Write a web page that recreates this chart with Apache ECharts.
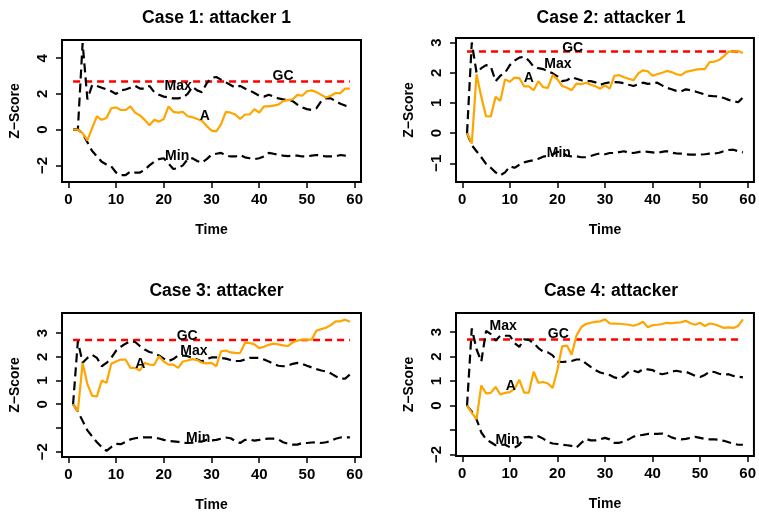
<!DOCTYPE html>
<html>
<head>
<meta charset="utf-8">
<script src="https://cdn.jsdelivr.net/npm/echarts@6/dist/echarts.min.js"></script>
<style>
html,body{margin:0;padding:0;background:#fff;}
#chart{width:759px;height:518px;}
</style>
</head>
<body>
<div id="chart"></div>
<script>
// time steps
const time = [1,2,3,4,5,6,7,8,9,10,11,12,13,14,15,16,17,18,19,20,
  21,22,23,24,25,26,27,28,29,30,31,32,33,34,35,36,37,38,39,40,
  41,42,43,44,45,46,47,48,49,50,51,52,53,54,55,56,57,58,59];
const gcLevel = 2.7;
const xTicks = [0,10,20,30,40,50,60];
const titles = ['Case 1: attacker 1','Case 2: attacker 1','Case 3: attacker','Case 4: attacker'];

// case 1
const a1 = [0,0,-0.2,-0.6,0.1,0.75,0.55,0.65,1.2,1.25,1.1,1.1,1.3,0.95,0.8,0.55,0.25,0.55,0.45,0.6,
  1.3,1.0,0.95,1.0,0.75,0.7,0.6,0.5,0.2,-0.05,-0.1,0.3,1.0,0.95,0.85,0.6,0.85,0.85,1.15,0.95,
  1.3,1.3,1.35,1.4,1.6,1.65,1.7,1.95,1.9,2.15,2.2,2.1,1.95,1.8,1.9,2.05,2.05,2.3,2.3];
const max1 = [0,0,4.85,1.7,2.5,2.45,2.35,2.25,2.15,2.0,2.2,2.25,2.35,2.45,2.3,2.3,2.45,2.1,1.95,1.85,
  1.8,1.75,1.75,1.8,2.0,2.4,2.2,2.1,2.6,2.9,2.95,2.8,2.65,2.5,2.35,2.45,2.3,2.2,2.05,1.9,
  1.85,1.95,1.85,1.75,1.7,1.68,1.6,1.4,1.25,1.15,1.1,1.2,1.6,1.75,1.75,1.6,1.45,1.35,1.3];
const min1 = [0,0,-0.2,-0.7,-1.2,-1.5,-1.8,-1.95,-2.05,-2.4,-2.55,-2.55,-2.35,-2.4,-2.4,-2.25,-2.0,-1.8,-1.65,-1.6,
  -1.9,-2.2,-2.15,-2.0,-1.65,-1.6,-1.75,-1.85,-1.65,-1.4,-1.35,-1.3,-1.45,-1.5,-1.5,-1.42,-1.55,-1.6,-1.65,-1.6,
  -1.5,-1.3,-1.35,-1.4,-1.45,-1.48,-1.45,-1.45,-1.5,-1.5,-1.45,-1.42,-1.45,-1.5,-1.5,-1.5,-1.42,-1.45,-1.45];

// case 2
const a2 = [0,-0.35,1.95,1.2,0.56,0.55,1.2,1.07,1.78,1.7,1.84,1.82,1.55,1.55,1.42,1.72,1.52,1.5,1.92,1.78,
  1.56,1.5,1.42,1.64,1.62,1.67,1.6,1.55,1.47,1.58,1.47,1.9,1.92,1.85,1.8,1.75,1.98,2.08,2.05,1.9,
  1.95,2.0,2.06,2.02,1.95,1.92,2.03,2.06,2.1,2.12,2.12,2.35,2.37,2.42,2.55,2.7,2.7,2.72,2.65];
const max2 = [0,3.0,2.0,2.15,2.25,2.2,1.72,1.9,2.0,2.25,2.4,2.5,2.53,2.4,2.2,2.15,2.12,2.05,1.98,1.88,
  1.72,1.75,1.85,1.8,1.75,1.72,1.72,1.68,1.6,1.65,1.68,1.69,1.68,1.65,1.6,1.56,1.62,1.67,1.63,1.65,
  1.67,1.58,1.5,1.45,1.4,1.38,1.45,1.42,1.38,1.33,1.28,1.23,1.22,1.21,1.16,1.1,1.06,1.02,1.18];
const min2 = [0,-0.4,-0.6,-0.8,-1.02,-1.15,-1.3,-1.4,-1.3,-1.1,-1.15,-1.05,-0.97,-0.93,-0.9,-0.85,-0.78,-0.75,-0.71,-0.62,
  -0.64,-0.75,-0.77,-0.77,-0.8,-0.8,-0.76,-0.71,-0.67,-0.7,-0.66,-0.66,-0.63,-0.6,-0.65,-0.66,-0.63,-0.6,-0.62,-0.64,
  -0.66,-0.62,-0.6,-0.65,-0.67,-0.68,-0.7,-0.71,-0.71,-0.71,-0.7,-0.68,-0.68,-0.65,-0.6,-0.56,-0.55,-0.6,-0.64];

// case 3
const a3 = [0,-0.3,1.74,0.85,0.35,0.33,1.0,0.9,1.7,1.8,1.88,1.88,1.53,1.53,1.42,1.74,1.67,1.66,2.02,1.8,
  1.67,1.67,1.53,1.8,1.84,1.9,1.86,1.75,1.72,1.74,1.6,2.23,2.26,2.18,2.16,2.15,2.58,2.58,2.52,2.36,
  2.42,2.5,2.55,2.52,2.48,2.45,2.6,2.68,2.72,2.72,2.72,3.1,3.16,3.22,3.33,3.49,3.49,3.56,3.47];
const max3 = [0,2.65,1.75,1.95,2.08,1.95,1.6,1.74,1.95,2.25,2.42,2.55,2.65,2.62,2.45,2.3,2.2,2.15,2.05,1.92,
  1.82,1.9,2.05,2.05,2.02,1.96,1.88,1.8,1.9,1.97,1.97,1.95,1.92,1.86,1.82,1.82,1.88,1.95,1.95,1.95,
  1.88,1.8,1.7,1.62,1.6,1.62,1.7,1.74,1.7,1.62,1.55,1.48,1.42,1.38,1.3,1.18,1.08,1.08,1.25];
const min3 = [0,-0.3,-0.7,-1.1,-1.35,-1.6,-1.8,-1.96,-1.8,-1.67,-1.68,-1.58,-1.48,-1.43,-1.41,-1.39,-1.39,-1.4,-1.44,-1.5,
  -1.54,-1.56,-1.58,-1.62,-1.63,-1.62,-1.57,-1.57,-1.5,-1.52,-1.5,-1.45,-1.4,-1.43,-1.55,-1.63,-1.5,-1.49,-1.53,-1.5,
  -1.46,-1.45,-1.45,-1.48,-1.6,-1.66,-1.7,-1.7,-1.63,-1.63,-1.61,-1.6,-1.63,-1.6,-1.55,-1.45,-1.4,-1.39,-1.39];

// case 4
const a4 = [0,-0.3,-0.55,0.82,0.5,0.52,0.76,0.45,0.52,0.55,0.68,1.05,0.53,0.53,1.38,0.93,0.96,0.9,0.72,1.45,
  2.42,2.45,2.08,2.85,3.2,3.33,3.38,3.42,3.44,3.52,3.36,3.35,3.34,3.32,3.3,3.26,3.32,3.42,3.2,3.28,
  3.3,3.33,3.38,3.36,3.39,3.4,3.46,3.36,3.3,3.38,3.25,3.35,3.32,3.25,3.17,3.19,3.17,3.25,3.52];
const max4 = [0,3.15,2.3,1.8,3.05,2.92,2.65,2.85,2.85,2.85,2.55,2.4,2.7,2.68,2.55,2.35,2.2,2.17,2.05,1.8,
  1.78,1.8,1.82,1.88,1.88,1.72,1.58,1.45,1.35,1.3,1.25,1.15,1.1,1.2,1.38,1.42,1.36,1.49,1.48,1.45,
  1.33,1.28,1.32,1.39,1.42,1.38,1.38,1.3,1.21,1.17,1.25,1.38,1.37,1.3,1.26,1.28,1.21,1.18,1.15];
const min4 = [0,-0.25,-0.56,-1.1,-1.37,-1.5,-1.62,-1.6,-1.6,-1.7,-1.72,-1.6,-1.3,-1.28,-1.33,-1.25,-1.35,-1.48,-1.55,-1.57,
  -1.6,-1.62,-1.65,-1.72,-1.53,-1.36,-1.42,-1.42,-1.38,-1.32,-1.38,-1.52,-1.52,-1.47,-1.38,-1.27,-1.22,-1.2,-1.16,-1.16,
  -1.16,-1.14,-1.2,-1.3,-1.36,-1.38,-1.36,-1.32,-1.28,-1.32,-1.36,-1.38,-1.38,-1.4,-1.44,-1.5,-1.56,-1.6,-1.6];

// y ticks (tick marks / printed labels)
const yTicks = [[-2,0,2,4],[-1,0,1,2,3],[-2,-1,0,1,2,3],[-2,-1,0,1,2,3]];
const yLabels = [[-2,0,2,4],[-1,0,1,2,3],[-2,0,1,2,3],[-2,0,1,2,3]];

// text annotations [time, z, text]
const notes = [
  [[23,2.45,'Max'],[45,2.97,'GC'],[28.6,0.77,'A'],[22.8,-1.47,'Min']],
  [[20.1,2.29,'Max'],[23.2,2.81,'GC'],[14,1.82,'A'],[20.3,-0.67,'Min']],
  [[26.3,2.24,'Max'],[24.9,2.86,'GC'],[15.1,1.67,'A'],[27.2,-1.42,'Min']],
  [[8.6,3.23,'Max'],[20.2,2.93,'GC'],[10.2,0.8,'A'],[9.5,-1.4,'Min']]
];

const aSeries = [a1,a2,a3,a4], maxSeries = [max1,max2,max3,max4], minSeries = [min1,min2,min3,min4];

// layout of each panel
const boxes = [
  {left:62, top:40, width:299, height:142, yMin:-2.93, yMax:5.02, titleTop:4},
  {left:456, top:38, width:300, height:144, yMin:-1.62, yMax:3.15, titleTop:4},
  {left:62, top:313, width:299, height:144, yMin:-2.22, yMax:3.84, titleTop:277},
  {left:456, top:313, width:300, height:143, yMin:-2.06, yMax:3.78, titleTop:277}
];

const font = 'Liberation Sans, Arial, Helvetica, sans-serif';
const txt = {color:'#000', fontWeight:'bold', fontFamily:font, fontSize:14};
const tickTxt = {color:'#000', fontWeight:'bold', fontFamily:font, fontSize:15};
const minus = v => String(v).replace('-', '\u2212');
const pair = arr => arr.map((v,i) => [time[i], v]);

const grid = [], xAxis = [], yAxis = [], series = [], title = [];
boxes.forEach((b,i) => {
  grid.push({left:b.left, top:b.top, width:b.width, height:b.height, show:true,
    borderColor:'#000', borderWidth:2, containLabel:false});
  title.push({text:titles[i], left:b.left + b.width/2, top:b.titleTop, textAlign:'center',
    textStyle:{color:'#000', fontWeight:'bold', fontFamily:font, fontSize:17.5}});
  xAxis.push({type:'value', gridIndex:i, min:-1.32, max:61.32,
    name:'Time', nameLocation:'middle', nameGap:41, nameTextStyle:txt,
    axisLine:{show:false, onZero:false},
    axisTick:{show:true, customValues:xTicks, length:6, lineStyle:{color:'#000', width:1.5}},
    axisLabel:Object.assign({customValues:xTicks, margin:10}, tickTxt),
    splitLine:{show:false}});
  yAxis.push({type:'value', gridIndex:i, min:b.yMin, max:b.yMax,
    name:'Z\u2212Score', nameLocation:'middle', nameGap:40, nameRotate:90, nameTextStyle:txt,
    axisLine:{show:false, onZero:false},
    axisTick:{show:true, customValues:yTicks[i], length:6, lineStyle:{color:'#000', width:1.5}},
    axisLabel:Object.assign({customValues:yLabels[i], rotate:90, margin:12, formatter:minus}, tickTxt),
    splitLine:{show:false}});

  series.push({type:'line', name:'GC', xAxisIndex:i, yAxisIndex:i, symbol:'none',
    data:[[time[0], gcLevel],[time[time.length-1], gcLevel]],
    lineStyle:{color:'#ff0000', width:2.5, type:[7,5]}});
  series.push({type:'line', name:'Max', xAxisIndex:i, yAxisIndex:i, symbol:'none',
    data:pair(maxSeries[i]), lineStyle:{color:'#000', width:2.2, type:[9,5]}});
  series.push({type:'line', name:'Min', xAxisIndex:i, yAxisIndex:i, symbol:'none',
    data:pair(minSeries[i]), lineStyle:{color:'#000', width:2.2, type:[9,5]}});
  series.push({type:'line', name:'A', xAxisIndex:i, yAxisIndex:i, symbol:'none',
    data:pair(aSeries[i]), lineStyle:{color:'#ffa500', width:2.2}});
  series.push({type:'scatter', name:'notes', xAxisIndex:i, yAxisIndex:i, symbolSize:0,
    data:notes[i], z:10, itemStyle:{color:'#000'},
    label:Object.assign({show:true, position:[0,0], align:'center', verticalAlign:'middle',
      textBorderWidth:0, opacity:1, formatter:p => p.value[2]}, txt)});
});

const chart = echarts.init(document.getElementById('chart'));
chart.setOption({animation:false, backgroundColor:'#fff', title, grid, xAxis, yAxis, series});
</script>
</body>
</html>
